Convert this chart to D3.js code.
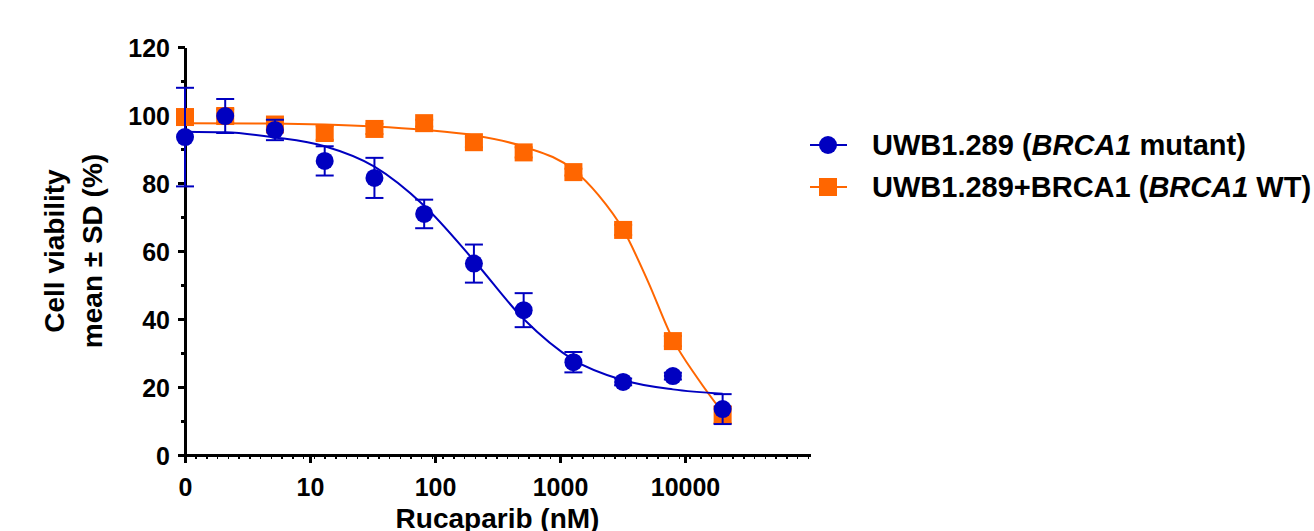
<!DOCTYPE html>
<html lang="en">
	<head>
		<meta charset="utf-8">
		<title>Rucaparib viability</title>
		<script type="text/javascript" src="https://d3js.org/d3.v7.min.js"></script>
		<style type="text/css">
        body {
          margin: 0;
          background: white;
        }
        svg text {
          font-family: "Liberation Sans", Arial, sans-serif;
          font-weight: bold;
          fill: black;
        }
        .axis path,
        .axis line {
          fill: none;
          stroke: black;
          stroke-width: 3;
          shape-rendering: crispEdges;
        }
        .minor line {
          stroke-width: 1.5;
        }
        .minor path {
          display: none;
        }
		</style>
	</head>
	<body>
		<script type="text/javascript">
var w = 1314;
var h = 531;

// doses in nM (0 = untreated, shown at the axis origin)
var doses = [0, 2.097, 5.243, 13.11, 32.77, 81.92, 204.8, 512, 1280, 3200, 8000, 20000];

var mutantMean = [93.5, 99.7, 95.6, 86.5, 81.5, 70.9, 56.3, 42.6, 27.3, 21.5, 23.2, 13.5];
var mutantSD   = [14.5, 5.0, 3.0, 4.3, 5.9, 4.2, 5.6, 5.0, 3.0, 1.0, 1.0, 4.4];

var wtMean = [99.4, 99.7, 97.2, 94.7, 95.9, 97.6, 92.0, 89.0, 83.2, 66.2, 33.5, 11.8];
var wtSD   = [2.0, 2.0, 1.5, 2.0, 1.5, 1.0, 1.5, 1.5, 1.0, 1.5, 1.5, 2.5];

// fitted curves (dose nM, % viability)
var mutantCurveX = [1, 2.097, 5.243, 13.11, 32.77, 81.92, 204.8, 512, 1280, 3200, 8000, 20000];
var mutantCurveY = [95.1, 94.9, 93.4, 90.8, 84.8, 73.3, 57.2, 40.0, 28.0, 22.0, 19.3, 18.0];

var wtCurveX = [1, 5.243, 13.11, 32.77, 81.92, 204.8, 512, 1280, 2024, 3200, 5060, 8000, 12650, 20000];
var wtCurveY = [97.6, 97.5, 97.2, 96.6, 95.6, 94.0, 90.7, 83.9, 76.5, 66.3, 51.0, 34.0, 22.5, 12.5];

var xTicks = [1, 10, 100, 1000, 10000];
var xTickLabels = ["0", "10", "100", "1000", "10000"];
var yTicks = [0, 20, 40, 60, 80, 100, 120];
var yMinorTicks = [10, 30, 50, 70, 90, 110];

var legendLabels = [
    ["UWB1.289 (", "BRCA1", " mutant)"],
    ["UWB1.289+BRCA1 (", "BRCA1", " WT)"]
];

var blue = "#0000c0";
var orange = "#ff6600";

//Create scale functions
var xScale = d3.scaleLog()
                 .domain([1, 100000])
                 .range([185, 810]);

var yScale = d3.scaleLinear()
                 .domain([0, 120])
                 .range([455, 47]);

function xPos(d) {
    return xScale(d === 0 ? xScale.domain()[0] : d);
}

var svg = d3.select("body")
            .append("svg")
            .attr("width", w)
            .attr("height", h);

svg.append("rect")
    .attr("width", w)
    .attr("height", h)
    .attr("fill", "white");

//Minor x ticks (the dotted look under the axis)
var minorX = d3.range(0, 5.0, 0.0859).map(function(k) { return Math.pow(10, k); });
svg.append("g")
    .attr("class", "axis minor")
    .attr("transform", "translate(0,455)")
    .call(d3.axisBottom(xScale).tickValues(minorX).tickSize(4).tickFormat(""));

//Minor y ticks
svg.append("g")
    .attr("class", "axis minor")
    .attr("transform", "translate(185,0)")
    .call(d3.axisLeft(yScale).tickValues(yMinorTicks).tickSize(4).tickFormat(""))
    .selectAll("line").style("stroke-width", 2.5);

//Create X axis
var xAxis = svg.append("g")
    .attr("class", "axis")
    .attr("transform", "translate(0,455)")
    .call(d3.axisBottom(xScale)
            .tickValues(xTicks)
            .tickSize(8)
            .tickSizeOuter(0)
            .tickPadding(15)
            .tickFormat(function(d, i) { return xTickLabels[i]; }));
xAxis.selectAll("text").style("font-size", "25px");
xAxis.selectAll("line").style("stroke-width", 2.5);

//Create Y axis
var yAxis = svg.append("g")
    .attr("class", "axis")
    .attr("transform", "translate(185,0)")
    .call(d3.axisLeft(yScale)
            .tickValues(yTicks)
            .tickSize(7)
            .tickSizeOuter(0)
            .tickPadding(8));
yAxis.selectAll("text").style("font-size", "25px").attr("dy", "0.36em");
yAxis.selectAll("line").style("stroke-width", 2.5);

var curve = d3.line()
            .x(function(d) { return xScale(d[0]); })
            .y(function(d) { return yScale(d[1]); })
            .curve(d3.curveMonotoneX);

function drawSeries(mean, sd, cx, cy, color, isCircle) {
    var g = svg.append("g");

    g.append("path")
        .datum(d3.zip(cx, cy))
        .attr("fill", "none")
        .attr("stroke", color)
        .attr("stroke-width", 2)
        .attr("d", curve);

    //error bars
    var bars = g.selectAll(".err")
        .data(doses)
        .enter()
        .append("g")
        .attr("stroke", color)
        .attr("stroke-width", 2);

    bars.append("line")
        .attr("x1", function(d) { return xPos(d); })
        .attr("x2", function(d) { return xPos(d); })
        .attr("y1", function(d, i) { return yScale(mean[i] - sd[i]); })
        .attr("y2", function(d, i) { return yScale(mean[i] + sd[i]); });

    [-1, 1].forEach(function(s) {
        bars.append("line")
            .attr("x1", function(d) { return xPos(d) - 9; })
            .attr("x2", function(d) { return xPos(d) + 9; })
            .attr("y1", function(d, i) { return yScale(mean[i] + s * sd[i]); })
            .attr("y2", function(d, i) { return yScale(mean[i] + s * sd[i]); });
    });

    //markers
    if (isCircle) {
        g.selectAll("circle")
            .data(doses)
            .enter()
            .append("circle")
            .attr("cx", function(d) { return xPos(d); })
            .attr("cy", function(d, i) { return yScale(mean[i]); })
            .attr("r", 9)
            .attr("fill", color);
    } else {
        g.selectAll("rect")
            .data(doses)
            .enter()
            .append("rect")
            .attr("x", function(d) { return xPos(d) - 9; })
            .attr("y", function(d, i) { return yScale(mean[i]) - 9; })
            .attr("width", 18)
            .attr("height", 18)
            .attr("fill", color);
    }
}

drawSeries(wtMean, wtSD, wtCurveX, wtCurveY, orange, false);
drawSeries(mutantMean, mutantSD, mutantCurveX, mutantCurveY, blue, true);

// Create xAxis label
svg.append("text")
    .attr("x", (xScale.range()[0] + xScale.range()[1]) / 2)
    .attr("y", 528)
    .style("text-anchor", "middle")
    .style("font-size", "28px")
    .text("Rucaparib (nM)");

// Create yAxis label (two lines)
var yMid = (yScale.range()[0] + yScale.range()[1]) / 2;
[["Cell viability", 64], ["mean \u00b1 SD (%)", 102]].forEach(function(t) {
    svg.append("text")
        .attr("transform", "translate(" + t[1] + "," + yMid + ") rotate(-90)")
        .style("text-anchor", "middle")
        .style("font-size", "28px")
        .text(t[0]);
});

// Legend
var legendY = [145, 187];
var colors = [blue, orange];
legendY.forEach(function(y, i) {
    var lg = svg.append("g");
    lg.append("line")
        .attr("x1", 810).attr("x2", 847)
        .attr("y1", y).attr("y2", y)
        .attr("stroke", colors[i])
        .attr("stroke-width", 2);
    if (i === 0) {
        lg.append("circle").attr("cx", 828).attr("cy", y).attr("r", 9).attr("fill", colors[i]);
    } else {
        lg.append("rect").attr("x", 819).attr("y", y - 9).attr("width", 18).attr("height", 18).attr("fill", colors[i]);
    }
    var t = lg.append("text")
        .attr("x", 872)
        .attr("y", y + 10)
        .style("font-size", "29px");
    t.append("tspan").text(legendLabels[i][0]);
    t.append("tspan").style("font-style", "italic").text(legendLabels[i][1]);
    t.append("tspan").text(legendLabels[i][2]);
});
		</script>
	</body>
</html>
